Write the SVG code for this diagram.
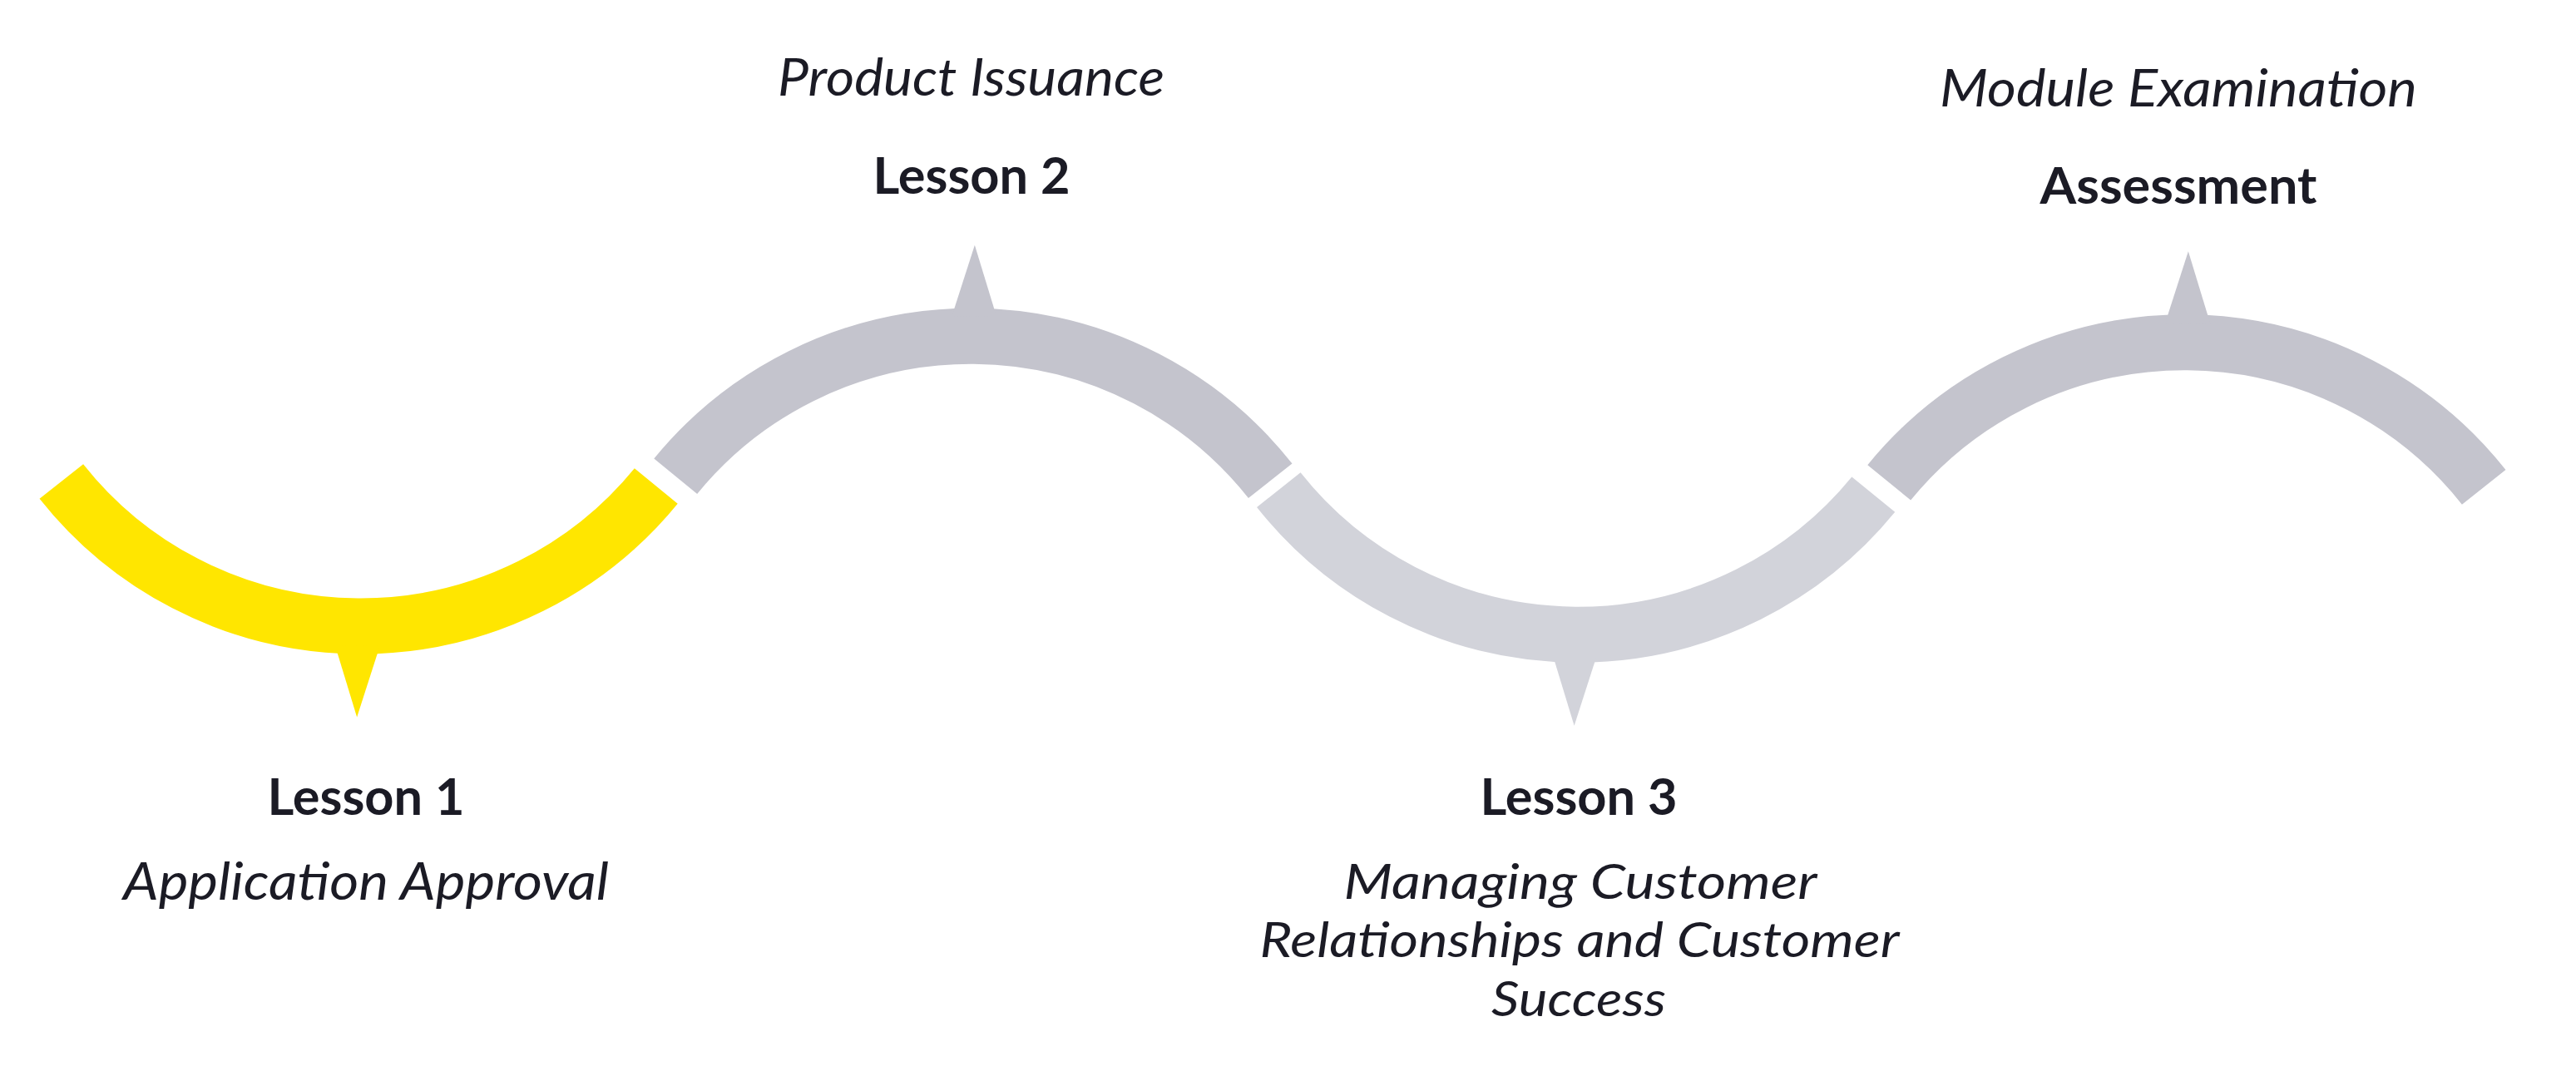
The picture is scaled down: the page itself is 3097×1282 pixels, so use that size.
<svg xmlns="http://www.w3.org/2000/svg" xmlns:xlink="http://www.w3.org/1999/xlink" width="3097" height="1282" viewBox="0 0 3097 1282">
  <style>
    .t { font-family: Lato, "Open Sans", "Liberation Sans", sans-serif; font-size: 62px; fill: #1b1b25; text-anchor: middle; }
    .b { font-weight: 700; }
    .i { font-style: italic; font-weight: 400; }
    .s { font-size: 59px; }
    .band { fill: none; stroke-width: 67; stroke-linecap: butt; }
  </style>
  <defs>
    <g id="wave">
      <path class="band" d="M -357.5 287.4 A 458.7 458.7 0 0 0 357.5 287.4"/>
      <polygon points="-27,482 27,482 0,568.2" stroke="none"/>
    </g>
  </defs>
  <rect width="3097" height="1282" fill="#ffffff"/>

  <g id="connectors"></g>

  <g id="lesson1">
    <use xlink:href="#wave" href="#wave" transform="translate(433.5 294.3) rotate(0.44)" stroke="#FFE600" fill="#FFE600"/>
    <text class="t b" x="440" y="980" textLength="237" lengthAdjust="spacingAndGlyphs">Lesson 1</text>
    <text class="t i" x="440" y="1082" textLength="584" lengthAdjust="spacingAndGlyphs">Application Approval</text>
  </g>

  <g id="lesson2">
    <use xlink:href="#wave" href="#wave" transform="translate(1167.5 862.9) rotate(0.44) scale(1 -1)" stroke="#C4C4CD" fill="#C4C4CD"/>
    <text class="t i" x="1167.5" y="115" textLength="465" lengthAdjust="spacingAndGlyphs">Product Issuance</text>
    <text class="t b" x="1168" y="233" textLength="237" lengthAdjust="spacingAndGlyphs">Lesson 2</text>
  </g>

  <g id="lesson3">
    <use xlink:href="#wave" href="#wave" transform="translate(1897 304.5) rotate(0.44)" stroke="#D2D3DA" fill="#D2D3DA"/>
    <text class="t b" x="1898" y="980" textLength="237" lengthAdjust="spacingAndGlyphs">Lesson 3</text>
    <text class="t i s" x="1900" y="1081" textLength="569" lengthAdjust="spacingAndGlyphs">Managing Customer</text>
    <text class="t i s" x="1899" y="1151" textLength="769" lengthAdjust="spacingAndGlyphs">Relationships and Customer</text>
    <text class="t i s" x="1898" y="1222" textLength="210" lengthAdjust="spacingAndGlyphs">Success</text>
  </g>

  <g id="assessment">
    <use xlink:href="#wave" href="#wave" transform="translate(2626.5 870.5) rotate(0.44) scale(1 -1)" stroke="#C4C4CD" fill="#C4C4CD"/>
    <text class="t i" x="2619" y="128" textLength="574" lengthAdjust="spacingAndGlyphs">Module Examination</text>
    <text class="t b" x="2619" y="245" textLength="333" lengthAdjust="spacingAndGlyphs">Assessment</text>
  </g>
</svg>
